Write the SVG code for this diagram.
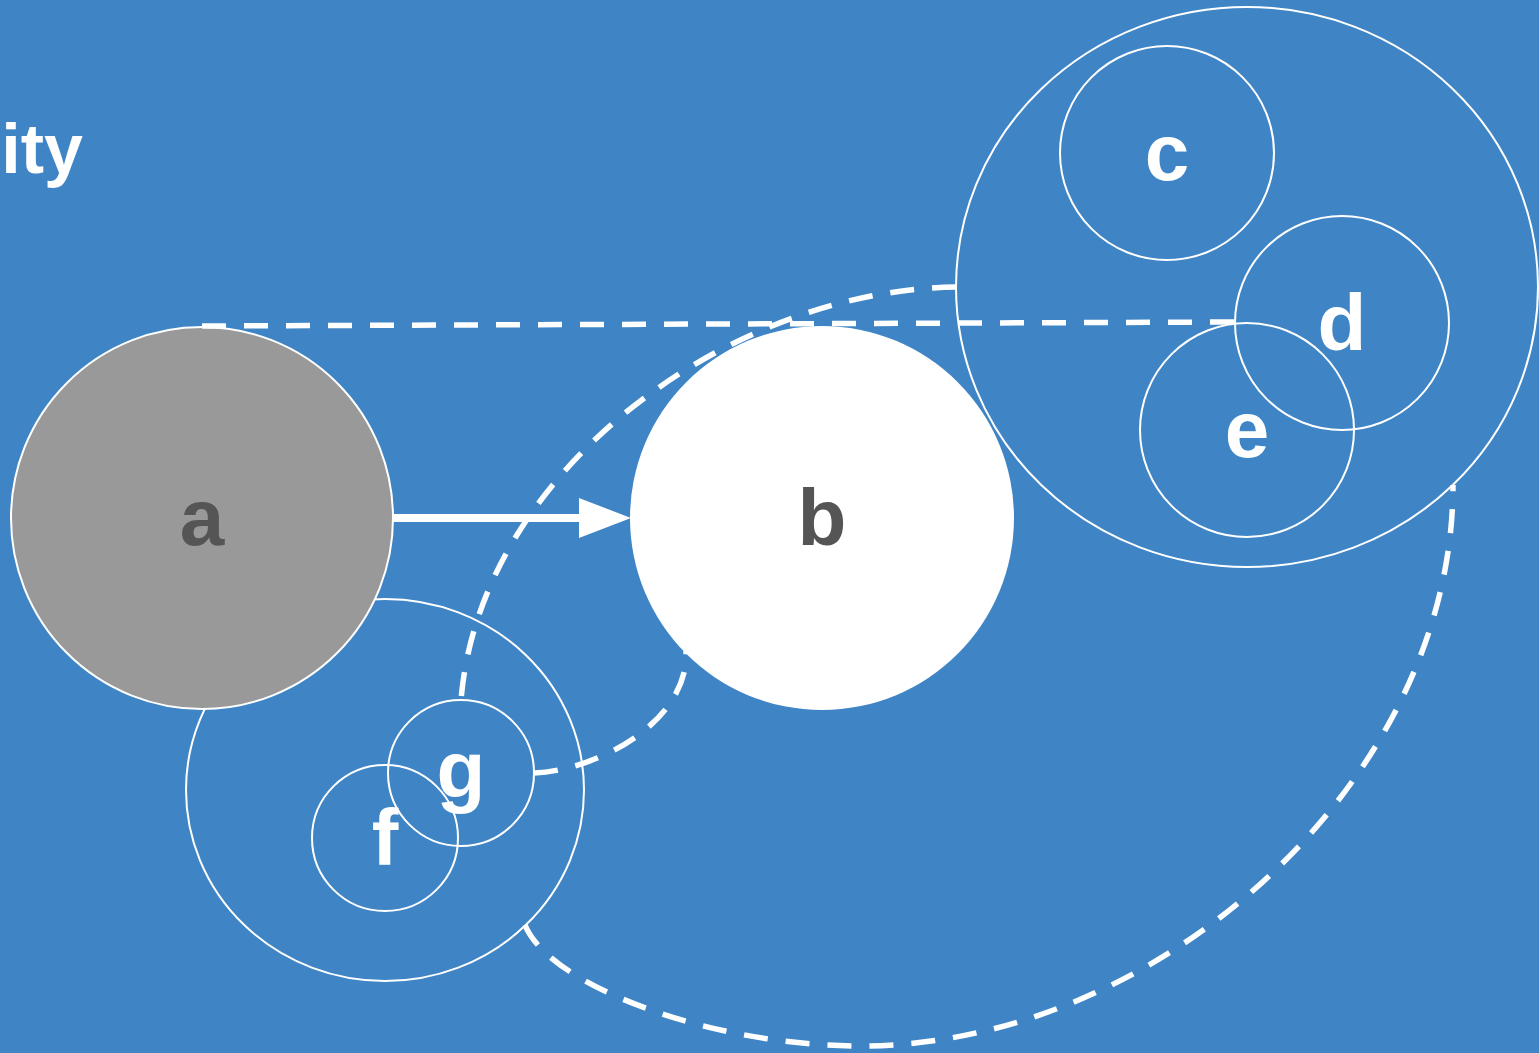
<svg xmlns="http://www.w3.org/2000/svg" width="1539" height="1053" viewBox="0 0 1539 1053">
<defs>
<style>
.ring{fill:none;stroke:#fff;stroke-width:2}
.dash{fill:none;stroke:#fff;stroke-width:5.5;stroke-dasharray:24 18}
.lbl{font-family:"Liberation Sans",Arial,sans-serif;font-weight:bold;font-size:80px;text-anchor:middle;fill:#fff}
.dark{fill:#555}
</style>
<marker id="arrow" markerUnits="userSpaceOnUse" markerWidth="52" markerHeight="40" refX="0" refY="20" orient="auto">
<path d="M0,0 L52,20 L0,40 Z" fill="#fff"/>
</marker>
</defs>
<rect x="0" y="0" width="1539" height="1053" fill="#3f85c6"/>
<text x="83" y="173" font-family="Liberation Sans,Arial,sans-serif" font-weight="bold" font-size="70" fill="#fff" text-anchor="end">ity</text>

<g id="node-fg-group"><ellipse class="ring" cx="385" cy="790" rx="199" ry="191"/></g>
<g id="node-a"><circle cx="202" cy="518" r="191" fill="#999" stroke="#fff" stroke-width="2"/><text class="lbl dark" x="202" y="545">a</text></g>
<g id="node-b"><circle cx="822" cy="518" r="192" fill="#fff"/><text class="lbl dark" x="822" y="545">b</text></g>
<g id="node-cde-group"><ellipse class="ring" cx="1247" cy="287" rx="291" ry="280"/></g>
<g id="node-c"><circle class="ring" cx="1167" cy="153" r="107"/><text class="lbl" x="1167" y="180">c</text></g>
<g id="node-d"><circle class="ring" cx="1342" cy="323" r="107"/><text class="lbl" x="1342" y="350">d</text></g>
<g id="node-e"><circle class="ring" cx="1247" cy="430" r="107"/><text class="lbl" x="1247" y="457">e</text></g>
<g id="node-g"><circle class="ring" cx="461" cy="773" r="73"/><text class="lbl" x="461" y="797">g</text></g>
<g id="node-f"><circle class="ring" cx="385" cy="838" r="73"/><text class="lbl" x="385" y="865">f</text></g>

<g id="connectors">
<line x1="393" y1="518" x2="579" y2="518" stroke="#fff" stroke-width="8" marker-end="url(#arrow)"/>
<path class="dash" d="M202,326 L1237,322"/>
<path class="dash" d="M956,287 C730,290 480,470 461,700"/>
<path class="dash" d="M534,773 C600,770 690,720 686,650"/>
<path class="dash" d="M525,925 C549,985 710,1046 860,1046 C1160,1046 1453,780 1453,485"/>
</g>
</svg>
